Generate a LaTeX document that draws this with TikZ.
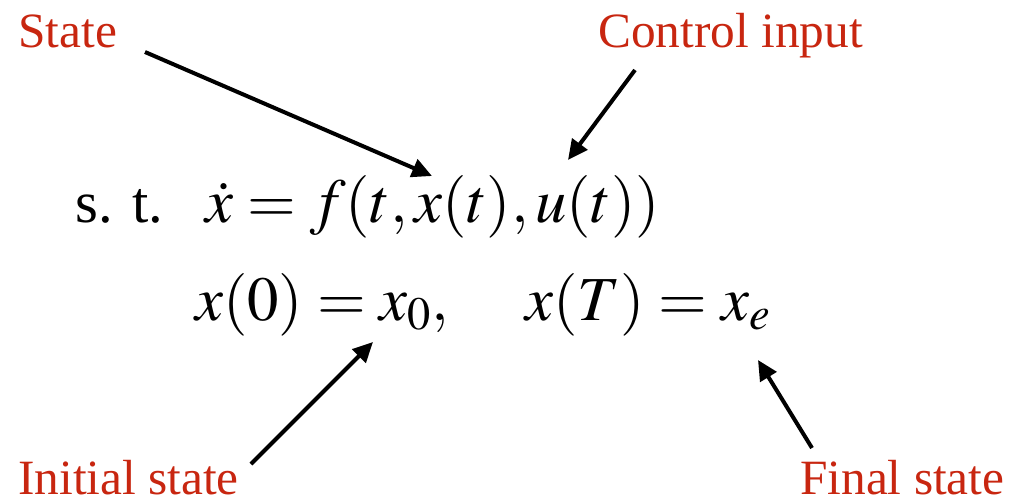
\documentclass[tikz,border=0pt]{standalone}
\usepackage{mathptmx}
\usepackage{fontspec}
\setmainfont{Liberation Serif}
\newfontfamily\stfont{Liberation Serif}
\usetikzlibrary{arrows.meta}
\definecolor{lblred}{RGB}{200,38,16}
\tikzset{
  lbl/.style={text=lblred, inner sep=0pt, anchor=base west, font=\stfont\fontsize{37}{44}\selectfont},
  eqn/.style={inner sep=0pt, anchor=base west, font=\fontsize{47}{56}\selectfont},
  sttext/.style={inner sep=0pt, anchor=base west, font=\stfont\fontsize{44}{52}\selectfont},
  ptr/.style={line width=3pt, -{Triangle[length=15pt,width=14pt]}}
}
\begin{document}
\begin{tikzpicture}[x=0.75pt,y=-0.75pt]
\useasboundingbox (0,0) rectangle (1009,501);
% labels
\node[lbl] (state) at (18,47) {State};
\node[lbl] (ctrl) at (598,47) {Control input};
\node[lbl] (init) at (18,494) {Initial state};
\node[lbl] (final) at (800,494) {Final state};
% equations
\node[sttext] (st) at (75,222) {s. t.};
\node[eqn] (dyn) at (205,222) {$\dot{x} = f(t,x(t),u(t))$};
\node[eqn] (ic) at (195,320) {$x(0) = x_0,$};
\node[eqn] (fc) at (525,320) {$x(T) = x_e$};
% arrow end points
\coordinate (a1s) at (145,52);
\coordinate (a1e) at (432,176);
\coordinate (a2s) at (635,70);
\coordinate (a2e) at (568,160);
\coordinate (a3s) at (251,464);
\coordinate (a3e) at (373,342);
\coordinate (a4s) at (812,448);
\coordinate (a4e) at (758,360);
\draw[ptr] (a1s) -- (a1e);
\draw[ptr] (a2s) -- (a2e);
\draw[ptr] (a3s) -- (a3e);
\draw[ptr] (a4s) -- (a4e);
\end{tikzpicture}
\end{document}
